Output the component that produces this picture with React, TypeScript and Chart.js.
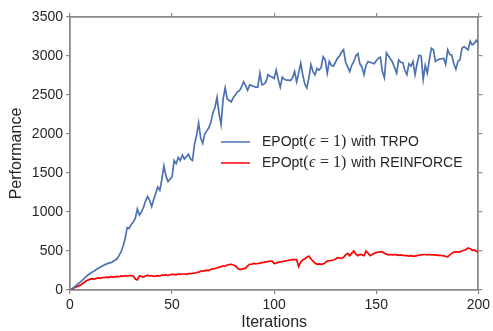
import React, { useEffect, useRef } from 'react';
import { Chart, registerables } from 'chart.js';

Chart.register(...registerables);

const trpoPerformance: number[] = [
  0, 15, 35, 55, 80, 100, 125, 150, 175, 195,
  215, 230, 245, 265, 280, 295, 310, 325, 335, 345,
  350, 365, 380, 400, 440, 490, 560, 660, 800, 790,
  840, 870, 920, 1040, 960, 1000, 1060, 1140, 1200, 1150,
  1070, 1160, 1240, 1320, 1280, 1420, 1590, 1460, 1390, 1420,
  1450, 1660, 1620, 1700, 1660, 1730, 1680, 1710, 1740, 1680,
  1660, 1870, 1980, 2140, 1950, 1880, 2000, 2040, 2080, 2150,
  2270, 2340, 2470, 2260, 2120, 2450, 2590, 2450, 2430, 2410,
  2470, 2500, 2540, 2555, 2600, 2670, 2620, 2560, 2630, 2620,
  2610, 2600, 2600, 2780, 2630, 2640, 2670, 2760, 2740, 2730,
  2710, 2820, 2700, 2600, 2730, 2700, 2690, 2690, 2685, 2720,
  2800, 2670, 2780, 2910, 2760, 2640, 2590, 2720, 2890, 2800,
  2760, 2840, 2820, 2850, 2990, 2950, 2780, 2930, 2880, 2870,
  2920, 2970, 3000, 3050, 3080, 2920, 2860, 2800, 2880, 2930,
  3000, 3030, 2900, 2860, 2760, 2880, 2930, 2920, 2910, 2900,
  2940, 2970, 2985, 2800, 2720, 3040, 3000, 2960, 2920, 2850,
  2780, 2950, 2920, 2915, 2820, 2760, 2900, 2870, 2930, 2760,
  2900, 3010, 3000, 2700, 2880, 2780, 2950, 3100, 3080, 2930,
  2950, 2960, 2965, 2970, 2890, 3080, 3020, 3010, 2900, 2830,
  2930, 2950, 3100, 3120, 3100, 3080, 3190, 3140, 3160, 3200,
  3160,
];

const reinforcePerformance: number[] = [
  0, 10, 25, 40, 50, 60, 80, 100, 120, 130,
  140, 145, 140, 150, 155, 150, 160, 160, 165, 160,
  170, 165, 170, 175, 170, 180, 175, 185, 180, 185,
  185, 180, 140, 130, 180, 175, 165, 180, 190, 180,
  185, 175, 180, 185, 180, 190, 190, 195, 185, 195,
  200, 200, 195, 205, 200, 205, 205, 200, 210, 210,
  215, 215, 225, 230, 240, 245, 245, 255, 250, 265,
  270, 275, 285, 290, 300, 310, 305, 320, 325, 330,
  320, 310, 280, 265, 265, 275, 280, 310, 330, 330,
  340, 335, 340, 345, 350, 355, 360, 365, 370, 370,
  340, 345, 355, 360, 365, 370, 375, 380, 385, 390,
  390, 390, 300, 360, 385, 400, 420, 435, 400, 370,
  345, 330, 335, 330, 335, 350, 370, 375, 380, 385,
  395, 415, 410, 405, 420, 450, 470, 440, 470, 500,
  460, 440, 455, 450, 440, 500, 470, 440, 455, 470,
  480, 485, 490, 490, 470, 460, 450, 455, 450, 455,
  450, 445, 450, 445, 440, 440, 435, 440, 435, 435,
  440, 445, 450, 455, 455, 450, 455, 450, 450, 450,
  445, 445, 440, 440, 430, 425, 450, 470, 485, 485,
  490, 490, 500, 510, 520, 540, 530, 510, 515, 495,
  490,
];

const xTickValues = [0, 50, 100, 150, 200];
const yTickValues = [0, 500, 1000, 1500, 2000, 2500, 3000, 3500];

const legendEntries = [
  { prefix: 'EPOpt', math: ['(', 'ϵ', ' = 1)'], suffix: ' with TRPO' },
  { prefix: 'EPOpt', math: ['(', 'ϵ', ' = 1)'], suffix: ' with REINFORCE' },
];

const seriesColors = ['#4C72B0', '#FF0000'];
const axisColor = '#8a8a8a';
const textColor = '#262626';
const sansFont = "'Liberation Sans', Arial, sans-serif";
const serifFont = "'Liberation Serif', 'Times New Roman', serif";

const customLegend = {
  id: 'customLegend',
  afterDatasetsDraw(chart: any) {
    const { ctx, chartArea } = chart;
    const x0 = chartArea.left + 151;
    const y0 = chartArea.top + 125;
    const rowGap = 21;
    ctx.save();
    legendEntries.forEach((entry, i) => {
      const y = y0 + i * rowGap;
      ctx.strokeStyle = seriesColors[i];
      ctx.lineWidth = 1.5;
      ctx.beginPath();
      ctx.moveTo(x0, y);
      ctx.lineTo(x0 + 29, y);
      ctx.stroke();
      let x = x0 + 41;
      ctx.fillStyle = textColor;
      ctx.textBaseline = 'middle';
      ctx.textAlign = 'left';
      ctx.font = `14px ${sansFont}`;
      ctx.fillText(entry.prefix, x, y);
      x += ctx.measureText(entry.prefix).width;
      ctx.font = `16px ${serifFont}`;
      ctx.fillText(entry.math[0], x, y);
      x += ctx.measureText(entry.math[0]).width + 0.5;
      ctx.font = `italic 16px ${serifFont}`;
      ctx.fillText(entry.math[1], x, y);
      x += ctx.measureText(entry.math[1]).width + 0.5;
      ctx.font = `16px ${serifFont}`;
      ctx.fillText(entry.math[2], x, y);
      x += ctx.measureText(entry.math[2]).width + 1;
      ctx.font = `14px ${sansFont}`;
      ctx.fillText(entry.suffix, x, y);
    });
    ctx.restore();
  },
};

const gridOpts = {
  display: true,
  drawOnChartArea: false,
  drawTicks: true,
  tickLength: 4,
  color: axisColor,
  lineWidth: 1.2,
};

const borderOpts = { display: true, color: axisColor, width: 1.8 };

const plainLabel = (v: any) => String(v);

export default function App() {
  const canvasRef = useRef<HTMLCanvasElement | null>(null);

  useEffect(() => {
    if (!canvasRef.current) return;
    const chart = new Chart(canvasRef.current, {
      type: 'line',
      data: {
        datasets: [
          {
            label: 'EPOpt(ϵ = 1) with TRPO',
            data: trpoPerformance.map((v, i) => ({ x: i, y: v })),
            borderColor: seriesColors[0],
            borderWidth: 1.7,
            pointRadius: 0,
            tension: 0,
            fill: false,
          },
          {
            label: 'EPOpt(ϵ = 1) with REINFORCE',
            data: reinforcePerformance.map((v, i) => ({ x: i, y: v })),
            borderColor: seriesColors[1],
            borderWidth: 1.7,
            pointRadius: 0,
            tension: 0,
            fill: false,
          },
        ],
      },
      options: {
        responsive: false,
        animation: false,
        layout: { padding: 0 },
        plugins: {
          legend: { display: false },
          tooltip: { enabled: false },
        },
        scales: {
          x: {
            type: 'linear',
            position: 'bottom',
            min: 0,
            max: 200,
            afterBuildTicks: (s: any) => { s.ticks = xTickValues.map((v) => ({ value: v })); },
            ticks: { font: { size: 14, family: sansFont }, color: textColor, padding: 3, maxRotation: 0, callback: plainLabel },
            grid: gridOpts,
            border: borderOpts,
            title: {
              display: true,
              text: 'Iterations',
              font: { size: 16, family: sansFont, lineHeight: 1 },
              color: textColor,
              padding: { top: 0, bottom: 0 },
            },
            afterFit: (s: any) => { s.height = 41; },
          },
          xTop: {
            type: 'linear',
            position: 'top',
            min: 0,
            max: 200,
            afterBuildTicks: (s: any) => { s.ticks = xTickValues.map((v) => ({ value: v })); },
            ticks: { display: false },
            grid: gridOpts,
            border: borderOpts,
            afterFit: (s: any) => { s.height = 17; },
          },
          y: {
            type: 'linear',
            position: 'left',
            min: 0,
            max: 3500,
            afterBuildTicks: (s: any) => { s.ticks = yTickValues.map((v) => ({ value: v })); },
            ticks: { font: { size: 14, family: sansFont }, color: textColor, padding: 3, callback: plainLabel },
            grid: gridOpts,
            border: borderOpts,
            title: {
              display: true,
              text: 'Performance',
              font: { size: 16, family: sansFont, lineHeight: 1 },
              color: textColor,
              padding: { top: 9, bottom: 0 },
            },
            afterFit: (s: any) => { s.width = 70; },
          },
          yRight: {
            type: 'linear',
            position: 'right',
            min: 0,
            max: 3500,
            afterBuildTicks: (s: any) => { s.ticks = yTickValues.map((v) => ({ value: v })); },
            ticks: { display: false },
            grid: gridOpts,
            border: borderOpts,
            afterFit: (s: any) => { s.width = 13; },
          },
        },
      },
      plugins: [customLegend],
    } as any);
    return () => chart.destroy();
  }, []);

  return (
    <div style={{ position: 'fixed', left: 0, top: 0, width: 493, height: 331, background: '#fff' }}>
      <canvas ref={canvasRef} width={493} height={331} />
    </div>
  );
}
